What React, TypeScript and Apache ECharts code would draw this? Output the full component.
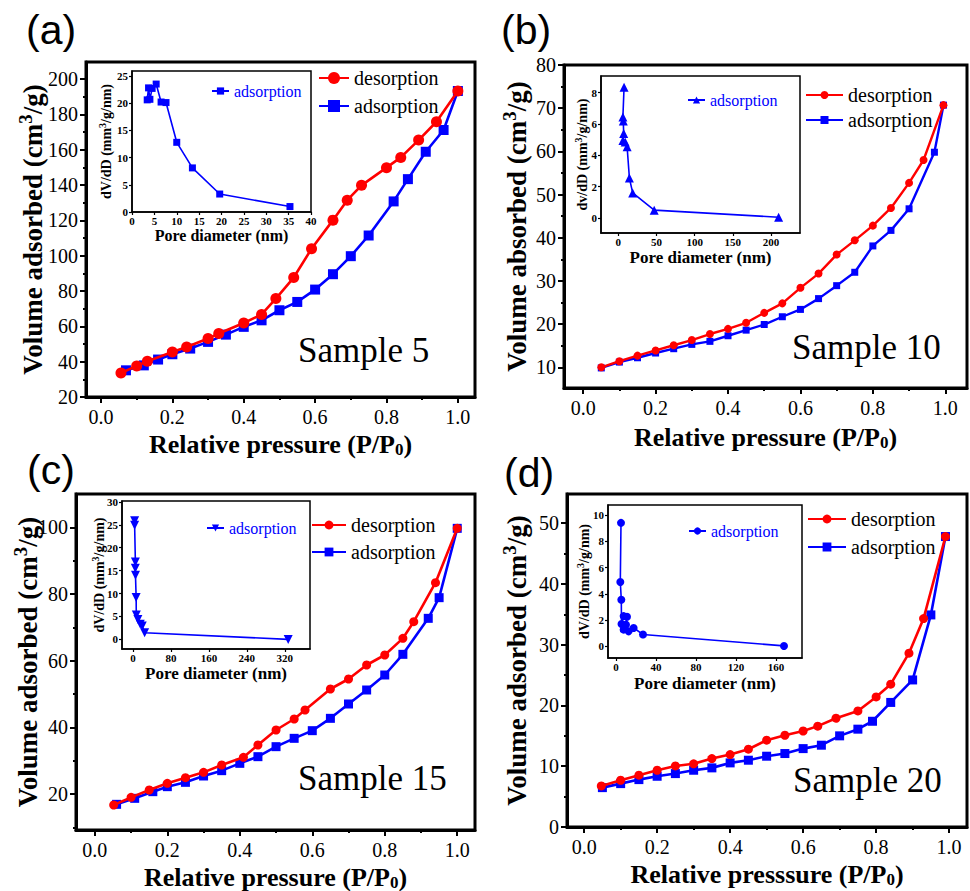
import React, { useEffect, useRef } from "react";
import * as echarts from "echarts";

const SERIF = "Liberation Serif";
const SANS = "Liberation Sans";
const RED = "#ff0000";
const BLUE = "#0000ff";

// ---------- Panel (a) Sample 5 ----------
const aDesP = [0.056, 0.10, 0.13, 0.20, 0.24, 0.30, 0.33, 0.40, 0.45, 0.49, 0.54, 0.59, 0.65, 0.69, 0.73, 0.80, 0.84, 0.89, 0.94, 1.0];
const aDesV = [33.6, 37.6, 40.2, 45.5, 48.3, 53.1, 55.9, 61.9, 66.7, 75.7, 87.6, 103.9, 120.1, 131.4, 139.8, 149.8, 155.6, 165.4, 175.8, 193.2];
const aAdsP = [0.07, 0.12, 0.16, 0.20, 0.25, 0.30, 0.35, 0.40, 0.45, 0.50, 0.55, 0.60, 0.65, 0.70, 0.75, 0.82, 0.86, 0.91, 0.96, 1.0];
const aAdsV = [35.1, 37.9, 41.2, 44.2, 47.4, 51.2, 55.3, 59.7, 63.4, 69.1, 73.8, 80.8, 89.5, 99.7, 111.4, 130.7, 143.3, 158.8, 171.1, 193.2];
const aPoreD = [3.4, 3.7, 4.0, 4.5, 5.4, 6.5, 7.6, 10.0, 13.5, 19.6, 35.3];
const aPoreV = [20.6, 22.8, 20.7, 22.7, 23.5, 20.2, 20.1, 12.8, 8.1, 3.3, 1.0];

// ---------- Panel (b) Sample 10 ----------
const bDesP = [0.05, 0.10, 0.15, 0.20, 0.25, 0.30, 0.35, 0.40, 0.45, 0.50, 0.55, 0.60, 0.65, 0.70, 0.75, 0.80, 0.85, 0.90, 0.94, 0.995];
const bDesV = [10.0, 11.4, 12.7, 13.9, 15.1, 16.3, 17.7, 18.9, 20.3, 22.6, 24.8, 28.4, 31.7, 36.1, 39.4, 42.8, 46.9, 52.7, 58.0, 70.7];
const bAdsP = [0.05, 0.10, 0.15, 0.20, 0.25, 0.30, 0.35, 0.40, 0.45, 0.50, 0.55, 0.60, 0.65, 0.70, 0.75, 0.80, 0.85, 0.90, 0.97, 0.995];
const bAdsV = [9.85, 11.2, 12.2, 13.3, 14.3, 15.3, 16.0, 17.3, 18.6, 19.9, 21.7, 23.4, 25.9, 28.9, 32.0, 38.1, 41.7, 46.7, 59.8, 70.7];
const bPoreD = [7.5, 6.0, 6.5, 7.0, 6.0, 9.0, 11.5, 14.5, 18.8, 47, 210];
const bPoreV = [8.35, 6.45, 6.2, 5.4, 4.95, 4.85, 4.55, 2.55, 1.6, 0.5, 0.05];

// ---------- Panel (c) Sample 15 ----------
const cDesP = [0.052, 0.10, 0.15, 0.20, 0.25, 0.30, 0.35, 0.41, 0.45, 0.50, 0.55, 0.58, 0.65, 0.70, 0.75, 0.80, 0.85, 0.88, 0.94, 1.0];
const cDesV = [16.7, 19.0, 21.2, 23.2, 24.9, 26.5, 28.7, 31.0, 34.7, 39.2, 42.5, 45.2, 51.5, 54.5, 58.7, 61.7, 66.7, 71.7, 83.4, 99.7];
const cAdsP = [0.06, 0.11, 0.16, 0.20, 0.25, 0.30, 0.35, 0.40, 0.45, 0.50, 0.55, 0.60, 0.65, 0.70, 0.75, 0.80, 0.85, 0.92, 0.95, 1.0];
const cAdsV = [16.9, 18.7, 20.7, 22.2, 23.5, 25.4, 27.0, 29.2, 31.2, 34.2, 36.7, 39.0, 42.7, 47.0, 51.2, 55.7, 61.9, 72.7, 78.9, 99.7];
const cPoreD = [3.6, 3.6, 5.2, 5.0, 5.4, 6.8, 7.1, 10.5, 15.5, 19.7, 24.6, 327];
const cPoreV = [25.9, 24.9, 16.9, 15.5, 14.0, 9.15, 5.3, 4.35, 3.3, 2.9, 1.45, 0];

// ---------- Panel (d) Sample 20 ----------
const dDesP = [0.047, 0.10, 0.15, 0.20, 0.25, 0.30, 0.35, 0.40, 0.45, 0.50, 0.55, 0.60, 0.64, 0.69, 0.75, 0.80, 0.84, 0.89, 0.93, 0.99];
const dDesV = [6.76, 7.69, 8.52, 9.34, 10.05, 10.4, 11.26, 11.92, 12.8, 14.29, 15.1, 15.8, 16.6, 17.9, 19.1, 21.4, 23.5, 28.6, 34.3, 47.8];
const dAdsP = [0.05, 0.10, 0.15, 0.20, 0.25, 0.30, 0.35, 0.40, 0.45, 0.50, 0.55, 0.60, 0.65, 0.70, 0.75, 0.79, 0.84, 0.90, 0.95, 0.99];
const dAdsV = [6.48, 7.14, 7.8, 8.35, 8.79, 9.34, 9.73, 10.55, 10.99, 11.65, 12.09, 12.9, 13.46, 15.0, 16.1, 17.4, 20.5, 24.2, 34.9, 47.8];
const dPoreD = [5.0, 4.3, 5.3, 5.5, 7.6, 11.0, 10.0, 7.6, 12.6, 17.6, 27, 168];
const dPoreV = [9.4, 4.9, 3.55, 1.7, 2.3, 2.25, 1.65, 1.27, 1.14, 1.4, 0.9, 0.03];

// ---------- tick labels ----------
const pressTicks = [0, 0.2, 0.4, 0.6, 0.8, 1.0];
const pressMinor = [0.1, 0.3, 0.5, 0.7, 0.9];
const aVolTicks = [20, 40, 60, 80, 100, 120, 140, 160, 180, 200];
const aVolMinor = [30, 50, 70, 90, 110, 130, 150, 170, 190];
const bVolTicks = [10, 20, 30, 40, 50, 60, 70, 80];
const bVolMinor = [15, 25, 35, 45, 55, 65, 75];
const cVolTicks = [20, 40, 60, 80, 100];
const cVolMinor = [10, 30, 50, 70, 90];
const dVolTicks = [0, 10, 20, 30, 40, 50];
const dVolMinor = [5, 15, 25, 35, 45];
const aPoreTicks = [0, 5, 10, 15, 20, 25, 30, 35, 40];
const aDvdTicks = [0, 5, 10, 15, 20, 25];
const bPoreTicks = [0, 50, 100, 150, 200];
const bDvdTicks = [0, 2, 4, 6, 8];
const cPoreTicks = [0, 80, 160, 240, 320];
const cDvdTicks = [0, 5, 10, 15, 20, 25, 30];
const dPoreTicks = [0, 40, 80, 120, 160];
const dDvdTicks = [0, 2, 4, 6, 8, 10];

// ---------- texts ----------
const panelLetters = ["(a)", "(b)", "(c)", "(d)"];
const sampleNames = ["Sample 5", "Sample 10", "Sample 15", "Sample 20"];
const yLabels = ["Volume adsorbed", "Volume absorbed", "Volume adsorbed", "Volume adsorbed"];
const xLabels = ["Relative pressure", "Relative pressure", "Relative pressure", "Relative presssure"];
const insetYLabels = ["dV/dD", "dv/dD", "dV/dD", "dV/dD"];
const insetXLabel = "Pore diameter (nm)";
const desName = "desorption";
const adsName = "adsorption";

// ---------- layout (pixels) ----------
const layouts = [
  {
    grid: [86, 62, 389, 335], x: [-0.042, 1.048], y: [20, 209.6], yGap: 36, xGap: 33,
    inset: [132, 71, 179, 141], ix: [0, 40], iy: [0, 25.9], ixGap: 15, iyGap: 17, ixFont: 16,
    legend: { left: 318, top: 68, itemWidth: 30, itemHeight: 15, itemGap: 8 },
    iLegend: { left: 211, top: 83 },
    cSize: 11, sSize: 10, lw: 2.6, iSymbol: "rect", iRotate: 0, iSize: 7,
    sample: [298, 333], letter: [26, 9],
  },
  {
    grid: [564, 65, 403, 323], x: [-0.053, 1.06], y: [5.2, 80], yGap: 30, xGap: 35,
    inset: [601, 76, 199, 157], ix: [-22.7, 238], iy: [-0.96, 9.07], ixGap: 16, iyGap: 10, ixFont: 17,
    legend: { left: 805, top: 85, itemWidth: 37, itemHeight: 10, itemGap: 5 },
    iLegend: { left: 687, top: 92 },
    cSize: 8, sSize: 7, lw: 2.4, iSymbol: "triangle", iRotate: 0, iSize: 9,
    sample: [792, 330], letter: [501, 9],
  },
  {
    grid: [76, 494, 399, 336], x: [-0.052, 1.049], y: [9.2, 110], yGap: 31, xGap: 33,
    inset: [122, 501, 188, 148], ix: [-23, 373], iy: [-2.1, 30.2], ixGap: 16, iyGap: 14, ixFont: 17,
    legend: { left: 311, top: 515, itemWidth: 34, itemHeight: 11, itemGap: 7 },
    iLegend: { left: 206, top: 520 },
    cSize: 9, sSize: 9, lw: 2.6, iSymbol: "triangle", iRotate: 180, iSize: 9,
    sample: [298, 761], letter: [27, 449],
  },
  {
    grid: [567, 494, 400, 333], x: [-0.047, 1.049], y: [0, 54.8], yGap: 33, xGap: 33,
    inset: [608, 505, 194, 153], ix: [-8, 186], iy: [-0.89, 10.76], ixGap: 17, iyGap: 15, ixFont: 17,
    legend: { left: 807, top: 509, itemWidth: 38, itemHeight: 11, itemGap: 8 },
    iLegend: { left: 688, top: 523 },
    cSize: 9, sSize: 9, lw: 2.6, iSymbol: "circle", iRotate: 0, iSize: 8,
    sample: [793, 763], letter: [504, 452],
  },
];

const panels = [
  { desP: aDesP, desV: aDesV, adsP: aAdsP, adsV: aAdsV, poreD: aPoreD, poreV: aPoreV, volTicks: aVolTicks, volMinor: aVolMinor, poreTicks: aPoreTicks, dvdTicks: aDvdTicks },
  { desP: bDesP, desV: bDesV, adsP: bAdsP, adsV: bAdsV, poreD: bPoreD, poreV: bPoreV, volTicks: bVolTicks, volMinor: bVolMinor, poreTicks: bPoreTicks, dvdTicks: bDvdTicks },
  { desP: cDesP, desV: cDesV, adsP: cAdsP, adsV: cAdsV, poreD: cPoreD, poreV: cPoreV, volTicks: cVolTicks, volMinor: cVolMinor, poreTicks: cPoreTicks, dvdTicks: cDvdTicks },
  { desP: dDesP, desV: dDesV, adsP: dAdsP, adsV: dAdsV, poreD: dPoreD, poreV: dPoreV, volTicks: dVolTicks, volMinor: dVolMinor, poreTicks: dPoreTicks, dvdTicks: dDvdTicks },
];

function zip(xs: number[], ys: number[]) {
  return xs.map((x, i) => [x, ys[i]]);
}

function buildOption() {
  const grid: any[] = [];
  const xAxis: any[] = [];
  const yAxis: any[] = [];
  const series: any[] = [];
  const legend: any[] = [];
  const graphic: any[] = [];

  panels.forEach((p, i) => {
    const L = layouts[i];
    const gm = 2 * i;
    const gi = 2 * i + 1;
    grid.push({
      left: L.grid[0], top: L.grid[1], width: L.grid[2], height: L.grid[3],
      show: true, borderColor: "#000", borderWidth: 3, backgroundColor: "rgba(0,0,0,0)",
      containLabel: false, outerBoundsMode: "none", z: 0,
    });
    grid.push({
      left: L.inset[0], top: L.inset[1], width: L.inset[2], height: L.inset[3],
      show: true, borderColor: "#000", borderWidth: 1.5, backgroundColor: "#fff",
      containLabel: false, outerBoundsMode: "none", z: 10,
    });

    const mainNameRichY = {
      b: { fontSize: 27, fontWeight: "bold", fontFamily: SERIF, color: "#000", lineHeight: 34 },
      s: { fontSize: 19, fontWeight: "bold", fontFamily: SERIF, color: "#000", lineHeight: 19, verticalAlign: "top" },
    };
    const mainNameRichX = {
      b: { fontSize: 26, fontWeight: "bold", fontFamily: SERIF, color: "#000", lineHeight: 28 },
      s: { fontSize: 17, fontWeight: "bold", fontFamily: SERIF, color: "#000", lineHeight: 20, verticalAlign: "bottom" },
    };

    // main x (major)
    xAxis.push({
      gridIndex: gm, type: "value", position: "bottom", min: L.x[0], max: L.x[1],
      axisLine: { show: true, onZero: false, lineStyle: { color: "#000", width: 3 } },
      axisTick: { show: true, length: 6, customValues: pressTicks, lineStyle: { color: "#000", width: 2 } },
      axisLabel: { show: true, customValues: pressTicks, formatter: (v: number) => v.toFixed(1), fontSize: 20, fontFamily: SERIF, color: "#000", margin: 10 },
      splitLine: { show: false },
      name: `{b|${xLabels[i]} (P/P}{s|0}{b|)}`,
      nameLocation: "middle", nameGap: L.xGap, nameMoveOverlap: false,
      nameTextStyle: { color: "#000", fontFamily: SERIF, fontWeight: "bold", fontSize: 26, rich: mainNameRichX },
    });
    // main x (minor ticks)
    xAxis.push({
      gridIndex: gm, type: "value", position: "bottom", min: L.x[0], max: L.x[1],
      axisLine: { show: false, onZero: false },
      axisTick: { show: true, length: 3, customValues: pressMinor, lineStyle: { color: "#000", width: 2 } },
      axisLabel: { show: false },
      splitLine: { show: false },
    });
    // inset x
    xAxis.push({
      gridIndex: gi, type: "value", position: "bottom", min: L.ix[0], max: L.ix[1], z: 11,
      axisLine: { show: true, onZero: false, lineStyle: { color: "#000", width: 1.5 } },
      axisTick: { show: true, length: 3, customValues: p.poreTicks, lineStyle: { color: "#000", width: 1.2 } },
      axisLabel: { show: true, customValues: p.poreTicks, fontSize: 11, fontWeight: "bold", fontFamily: SERIF, color: "#000", margin: 3 },
      splitLine: { show: false },
      name: insetXLabel, nameLocation: "middle", nameGap: L.ixGap, nameMoveOverlap: false,
      nameTextStyle: { color: "#000", fontFamily: SERIF, fontWeight: "bold", fontSize: L.ixFont },
    });

    // main y (major)
    yAxis.push({
      gridIndex: gm, type: "value", position: "left", min: L.y[0], max: L.y[1],
      axisLine: { show: true, onZero: false, lineStyle: { color: "#000", width: 3 } },
      axisTick: { show: true, length: 6, customValues: p.volTicks, lineStyle: { color: "#000", width: 2 } },
      axisLabel: { show: true, customValues: p.volTicks, fontSize: 20, fontFamily: SERIF, color: "#000", margin: 8 },
      splitLine: { show: false },
      name: `{b|${yLabels[i]} (cm}{s|3}{b|/g)}`,
      nameLocation: "middle", nameGap: L.yGap, nameMoveOverlap: false,
      nameTextStyle: { color: "#000", fontFamily: SERIF, fontWeight: "bold", fontSize: 27, rich: mainNameRichY },
    });
    // main y (minor)
    yAxis.push({
      gridIndex: gm, type: "value", position: "left", min: L.y[0], max: L.y[1],
      axisLine: { show: false, onZero: false },
      axisTick: { show: true, length: 3, customValues: p.volMinor, lineStyle: { color: "#000", width: 2 } },
      axisLabel: { show: false },
      splitLine: { show: false },
    });
    // inset y
    yAxis.push({
      gridIndex: gi, type: "value", position: "left", min: L.iy[0], max: L.iy[1], z: 11,
      axisLine: { show: true, onZero: false, lineStyle: { color: "#000", width: 1.5 } },
      axisTick: { show: true, length: 3, customValues: p.dvdTicks, lineStyle: { color: "#000", width: 1.2 } },
      axisLabel: { show: true, customValues: p.dvdTicks, fontSize: 11, fontWeight: "bold", fontFamily: SERIF, color: "#000", margin: 4 },
      splitLine: { show: false },
      name: `{b|${insetYLabels[i]} (mm}{s|3}{b|/g/nm)}`,
      nameLocation: "middle", nameGap: L.iyGap, nameMoveOverlap: false,
      nameTextStyle: {
        color: "#000", fontFamily: SERIF, fontWeight: "bold", fontSize: 14,
        rich: {
          b: { fontSize: 14, fontWeight: "bold", fontFamily: SERIF, color: "#000", lineHeight: 18 },
          s: { fontSize: 10, fontWeight: "bold", fontFamily: SERIF, color: "#000", lineHeight: 10, verticalAlign: "top" },
        },
      },
    });

    const ax = 3 * i;
    const desKey = `${desName}#${i}`;
    const adsKey = `${adsName}#${i}`;
    const insKey = `${adsName}#inset${i}`;
    series.push({
      type: "line", name: adsKey, xAxisIndex: ax, yAxisIndex: ax,
      data: zip(p.adsP, p.adsV), symbol: "rect", symbolSize: L.sSize, showSymbol: true,
      lineStyle: { color: BLUE, width: L.lw }, itemStyle: { color: BLUE }, z: 3, silent: true,
    });
    series.push({
      type: "line", name: desKey, xAxisIndex: ax, yAxisIndex: ax,
      data: zip(p.desP, p.desV), symbol: "circle", symbolSize: L.cSize, showSymbol: true,
      lineStyle: { color: RED, width: L.lw }, itemStyle: { color: RED }, z: 4, silent: true,
    });
    series.push({
      type: "line", name: insKey, xAxisIndex: ax + 2, yAxisIndex: ax + 2,
      data: zip(p.poreD, p.poreV), symbol: L.iSymbol, symbolRotate: L.iRotate, symbolSize: L.iSize, showSymbol: true,
      lineStyle: { color: BLUE, width: 1.6 }, itemStyle: { color: BLUE }, z: 12, silent: true,
    });

    legend.push({
      show: true, orient: "vertical", left: L.legend.left, top: L.legend.top,
      itemWidth: L.legend.itemWidth, itemHeight: L.legend.itemHeight, itemGap: L.legend.itemGap,
      data: [desKey, adsKey], selectedMode: false, padding: 0, z: 4,
      formatter: (n: string) => n.split("#")[0],
      textStyle: { fontFamily: SERIF, fontSize: 20, color: "#000", lineHeight: 20 },
    });
    legend.push({
      show: true, orient: "vertical", left: L.iLegend.left, top: L.iLegend.top,
      itemWidth: 17, itemHeight: 9, itemGap: 0,
      data: [insKey], selectedMode: false, padding: 0, z: 13,
      formatter: (n: string) => n.split("#")[0],
      textStyle: { fontFamily: SERIF, fontSize: 16, color: BLUE, lineHeight: 16 },
    });

    graphic.push({
      type: "text", left: L.sample[0], top: L.sample[1], z: 5,
      style: { text: sampleNames[i], fontSize: 35, fontFamily: SERIF, fill: "#000" },
    });
    graphic.push({
      type: "text", left: L.letter[0], top: L.letter[1], z: 5,
      style: { text: panelLetters[i], fontSize: 41, fontFamily: SANS, fill: "#000" },
    });
  });

  return {
    animation: false,
    backgroundColor: "#fff",
    textStyle: { fontFamily: SERIF },
    grid, xAxis, yAxis, series, legend, graphic,
  };
}

export default function App() {
  const ref = useRef<HTMLDivElement>(null);
  useEffect(() => {
    if (!ref.current) return;
    const chart = echarts.init(ref.current, null, { renderer: "svg" });
    chart.setOption(buildOption() as any);
    return () => {
      chart.dispose();
    };
  }, []);
  return (
    <div
      ref={ref}
      style={{ position: "absolute", left: 0, top: 0, width: 970, height: 891, background: "#fff" }}
    />
  );
}
